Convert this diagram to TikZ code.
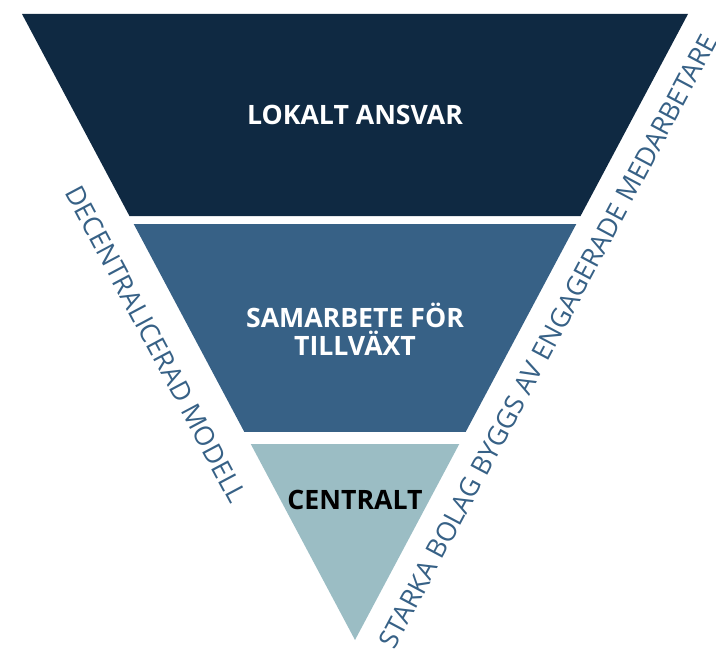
\documentclass[tikz,border=0pt]{standalone}
\usepackage{fontspec}
\setmainfont{Open Sans}
\usetikzlibrary{calc}

\definecolor{navy}{HTML}{0F2942}
\definecolor{midblue}{HTML}{376186}
\definecolor{paleblue}{HTML}{9BBDC4}

\tikzset{
    level/.style={font=\bfseries\fontsize{20}{21}\selectfont,align=center},
    side/.style={font=\fontsize{20}{22}\selectfont,text=midblue,inner sep=0pt,midway,sloped}
}

\begin{document}
\begin{tikzpicture}[x=0.75pt,y=0.75pt]
    \useasboundingbox (0,0) rectangle (716,650) ;
    \coordinate (apex) at (355,10) ;
    \coordinate (tl) at (22,636) ;
    \coordinate (tr) at (688,636) ;

    % three cuts of one inverted triangle, white gaps between them
    \fill[navy] (tl) -- (tr) -- ($(apex)!0.6773!(tr)$) -- ($(apex)!0.6773!(tl)$) -- cycle ;
    \fill[midblue] ($(apex)!0.6645!(tl)$) -- ($(apex)!0.6645!(tr)$) -- ($(apex)!0.3323!(tr)$) -- ($(apex)!0.3323!(tl)$) -- cycle ;
    \fill[paleblue] ($(apex)!0.3131!(tl)$) -- ($(apex)!0.3131!(tr)$) -- (apex) -- cycle ;

    \node[level,text=white] (lokalt) at (355,535) {LOKALT ANSVAR} ;
    \node[level,text=white] (samarbete) at (355,321) {SAMARBETE FÖR\\TILLVÄXT} ;
    \node[level,text=black] (centralt) at (355,150) {CENTRALT} ;

    % labels along the two slanted sides
    \path (tl) -- (apex) node[side,below=20pt] (decentral) {DECENTRALICERAD MODELL} ;
    \path (apex) -- (tr) node[side,below=15pt] (starka) {STARKA BOLAG BYGGS AV ENGAGERADE MEDARBETARE} ;
\end{tikzpicture}
\end{document}
